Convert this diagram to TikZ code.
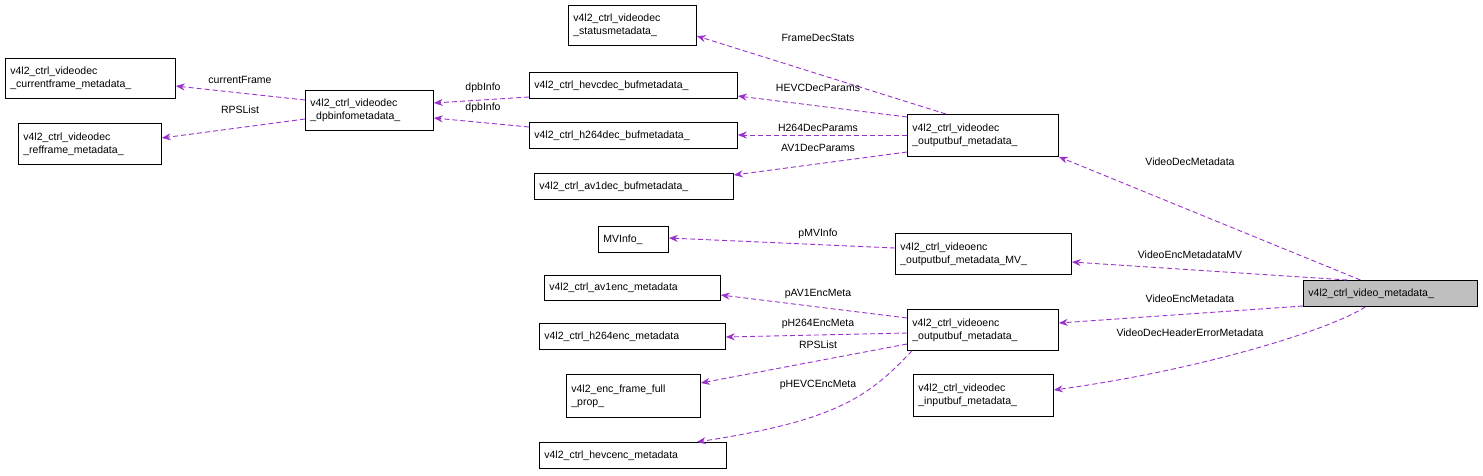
\documentclass[tikz,border=0pt]{standalone}
\usepackage{fontspec}
\setmainfont{Liberation Sans}
\usetikzlibrary{arrows.meta}
\definecolor{edge}{RGB}{153,50,204}
\begin{document}
\begin{tikzpicture}[x=1pt,y=-1pt,
  box/.style={draw,line width=0.8pt,inner sep=0pt,align=left,anchor=north west,font=\fontsize{10.5}{13}\selectfont},
  e/.style={draw=edge,dash pattern=on 5pt off 3pt,line width=0.9pt,-{Stealth[length=9pt,width=7pt]}},
  lb/.style={font=\fontsize{10.5}{13}\selectfont,inner sep=1pt}]
\useasboundingbox (0,0) rectangle (1483,475);
\newcommand\bx[6]{\node[box,minimum width=#4-#2,minimum height=#5-#3,text width=#4-#2-10,] (#1) at (#2,#3) {#6};}
\bx{st}{568}{5}{696}{45}{v4l2\_ctrl\_videodec\\\_statusmetadata\_}
\bx{cf}{5}{58}{175}{98}{v4l2\_ctrl\_videodec\\\_currentframe\_metadata\_}
\bx{rf}{18}{123}{161}{164}{v4l2\_ctrl\_videodec\\\_refframe\_metadata\_}
\bx{dpb}{305}{90}{433}{130}{v4l2\_ctrl\_videodec\\\_dpbinfometadata\_}
\bx{hd}{529}{72}{737}{98}{v4l2\_ctrl\_hevcdec\_bufmetadata\_}
\bx{hh}{529}{122}{737}{148}{v4l2\_ctrl\_h264dec\_bufmetadata\_}
\bx{ad}{534}{173}{733}{199}{v4l2\_ctrl\_av1dec\_bufmetadata\_}
\bx{ob}{907}{114}{1058}{156}{v4l2\_ctrl\_videodec\\\_outputbuf\_metadata\_}
\bx{mv}{598}{226}{668}{252}{MVInfo\_}
\bx{emv}{895}{233}{1071}{274}{v4l2\_ctrl\_videoenc\\\_outputbuf\_metadata\_MV\_}
\node[box,fill=black!25,minimum width=174,minimum height=26,text width=164] (vm) at (1303,280) {v4l2\_ctrl\_video\_metadata\_};
\bx{ae}{544}{275}{720}{300}{v4l2\_ctrl\_av1enc\_metadata}
\bx{he}{539}{323}{725}{349}{v4l2\_ctrl\_h264enc\_metadata}
\bx{eo}{907}{309}{1058}{350}{v4l2\_ctrl\_videoenc\\\_outputbuf\_metadata\_}
\bx{ff}{566}{374}{700}{417}{v4l2\_enc\_frame\_full\\\_prop\_}
\bx{ib}{913}{374}{1053}{416}{v4l2\_ctrl\_videodec\\\_inputbuf\_metadata\_}
\bx{hv}{539}{442}{726}{468}{v4l2\_ctrl\_hevcenc\_metadata}

\draw[e] ([xshift=-37pt]ob.north) -- (st.east |- 0,36);
\draw[e] (dpb.west |- 0,100) -- (cf.east |- 0,86);
\draw[e] (dpb.west |- 0,119) -- (rf.east |- 0,138);
\draw[e] (hd.west |- 0,97) -- (dpb.east |- 0,103);
\draw[e] (hh.west |- 0,127) -- (dpb.east |- 0,118);
\draw[e] (ob.west |- 0,117) -- (hd.east |- 0,96);
\draw[e] (ob.west |- 0,135) -- (hh.east |- 0,135);
\draw[e] (ob.west |- 0,152) -- (ad.east |- 0,175);
\draw[e] ([xshift=-30pt]vm.north) -- (ob.south east);
\draw[e] (emv.west |- 0,248) -- (mv.east |- 0,238);
\draw[e] ([xshift=-35pt]vm.north) ++(-8,0) -- (emv.east |- 0,262);
\draw[e] (eo.west |- 0,318) -- (ae.east |- 0,295);
\draw[e] (eo.west |- 0,333) -- (he.east |- 0,337);
\draw[e] (eo.west |- 0,344) -- (ff.east |- 0,383);
\draw[e] ([xshift=5pt]eo.south west) .. controls (870,395) and (840,420) .. ([xshift=-30pt]hv.north east);
\draw[e] (vm.west |- 0,306) -- (eo.east |- 0,323);
\draw[e] ([xshift=-25pt]vm.south) .. controls (1330,330) and (1200,370) .. (ib.east |- 0,390);

\node[lb] at (818,38) {FrameDecStats};
\node[lb] at (240,80) {currentFrame};
\node[lb] at (240,110) {RPSList};
\node[lb] at (483,88) {dpbInfo};
\node[lb] at (483,108) {dpbInfo};
\node[lb] at (818,88) {HEVCDecParams};
\node[lb] at (818,128) {H264DecParams};
\node[lb] at (818,148) {AV1DecParams};
\node[lb] at (1190,162) {VideoDecMetadata};
\node[lb] at (818,234) {pMVInfo};
\node[lb] at (1190,255) {VideoEncMetadataMV};
\node[lb] at (818,294) {pAV1EncMeta};
\node[lb] at (1190,299) {VideoEncMetadata};
\node[lb] at (818,324) {pH264EncMeta};
\node[lb] at (818,345) {RPSList};
\node[lb] at (1190,333) {VideoDecHeaderErrorMetadata};
\node[lb] at (818,385) {pHEVCEncMeta};
\end{tikzpicture}
\end{document}
